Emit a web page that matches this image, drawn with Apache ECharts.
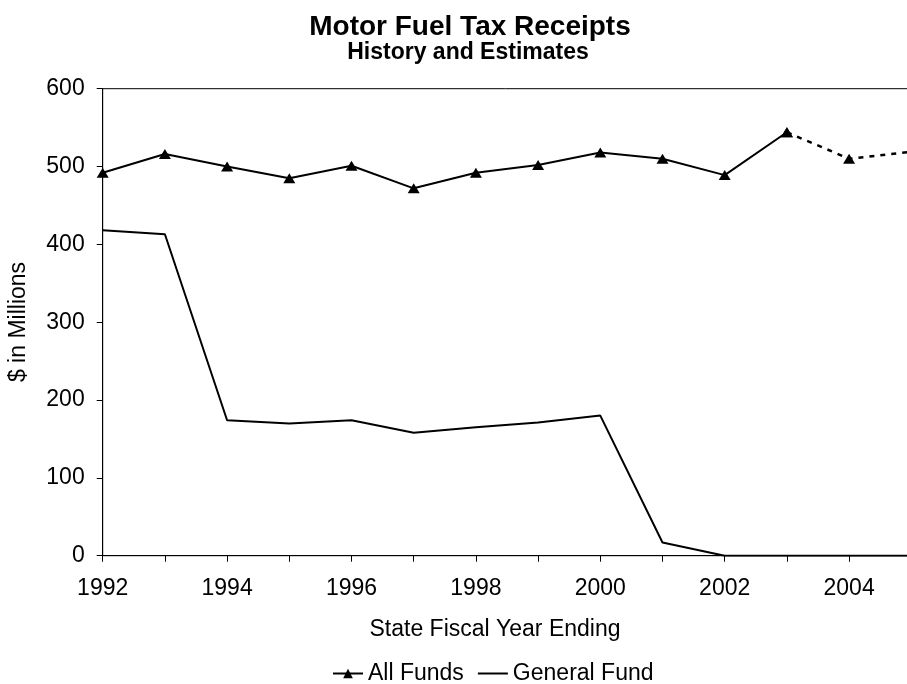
<!DOCTYPE html>
<html>
<head>
<meta charset="utf-8">
<script src="https://cdn.jsdelivr.net/npm/echarts@6/dist/echarts.min.js"></script>
<style>html,body{margin:0;padding:0;background:#fff;}#c{width:907px;height:684px;}</style>
</head>
<body>
<div id="c"></div>
<script>
const years = ['1992','1993','1994','1995','1996','1997','1998','1999','2000','2001','2002','2003','2004','2005'];
const allFunds = [492, 516, 500, 485, 501, 472, 492, 502, 518, 510, 489, 544, 510, 519];
const generalFund = [418, 413, 174, 170, 174, 158, 165, 171, 180, 17, 0, 0, 0, 0];
const estimateStart = '2003';
const yTicks = [0, 100, 200, 300, 400, 500, 600];

const FONT = "'Liberation Sans', Arial, sans-serif";
const split = years.indexOf(estimateStart);
const last = years.length - 1;

const solidAll = allFunds.map((v, i) => i <= split ? v : null);
const dashedAll = allFunds.map((v, i) => i < split ? null : (i === last ? {value: v, symbol: 'none'} : v));

const chart = echarts.init(document.getElementById('c'), null, {renderer: 'canvas'});
chart.setOption({
  animation: false,
  backgroundColor: '#fff',
  title: [
    {text: 'Motor Fuel Tax Receipts', left: 465, top: 8, textAlign: 'center',
     textStyle: {fontFamily: FONT, fontSize: 28, fontWeight: 'bold', color: '#000'}},
    {text: 'History and Estimates', left: 463, top: 36.5, textAlign: 'center',
     textStyle: {fontFamily: FONT, fontSize: 23, fontWeight: 'bold', color: '#000'}}
  ],
  legend: {
    left: 327, top: 657, itemWidth: 30, itemHeight: 12, itemGap: 13,
    data: [{name: 'All Funds'}, {name: 'General Fund', itemStyle: {opacity: 0}}],
    textStyle: {fontFamily: FONT, fontSize: 23, color: '#000'}
  },
  grid: {left: 102.7, right: -4.3, top: 88.7, bottom: 128.3, outerBoundsMode: 'none',
         show: true, borderColor: '#000', borderWidth: 1, backgroundColor: 'transparent', containLabel: false},
  xAxis: {
    type: 'category', data: years, boundaryGap: false,
    axisLine: {lineStyle: {color: '#000', width: 1}},
    axisTick: {show: true, interval: 0, length: 6, inside: false, lineStyle: {color: '#000'}},
    axisLabel: {interval: 1, margin: 21, fontFamily: FONT, fontSize: 23, color: '#000'},
    splitLine: {show: false}
  },
  yAxis: {
    type: 'value', min: yTicks[0], max: yTicks[yTicks.length - 1], interval: 100,
    axisLine: {show: true, lineStyle: {color: '#000', width: 1}},
    axisTick: {show: true, length: 6, lineStyle: {color: '#000'}},
    axisLabel: {margin: 18, fontFamily: FONT, fontSize: 23, color: '#000'},
    splitLine: {show: false}
  },
  graphic: [
    {type: 'text', x: 19, y: 322, rotation: Math.PI / 2,
     style: {text: '$ in Millions', font: '23px ' + FONT, fill: '#000', textAlign: 'center', textVerticalAlign: 'middle'}},
    {type: 'text', x: 495, y: 630,
     style: {text: 'State Fiscal Year Ending', font: '23px ' + FONT, fill: '#000', textAlign: 'center', textVerticalAlign: 'middle'}}
  ],
  series: [
    {name: 'All Funds', type: 'line', data: solidAll, symbol: 'triangle', symbolSize: [12, 10],
     showAllSymbol: true, connectNulls: false,
     itemStyle: {color: '#000'}, lineStyle: {color: '#000', width: 2}, z: 3},
    {name: 'All Funds', type: 'line', data: dashedAll, symbol: 'triangle', symbolSize: [12, 10],
     showAllSymbol: true, connectNulls: false,
     itemStyle: {color: '#000'}, lineStyle: {color: '#000', width: 2.5, type: [5, 6]}, z: 3},
    {name: 'General Fund', type: 'line', data: generalFund, symbol: 'none', showSymbol: false,
     itemStyle: {color: '#000'}, lineStyle: {color: '#000', width: 2}, z: 2}
  ]
});
</script>
</body>
</html>
